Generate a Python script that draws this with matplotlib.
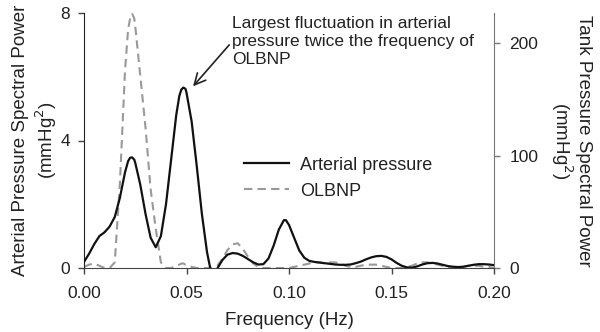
import matplotlib
matplotlib.use("Agg")
import matplotlib.pyplot as plt

plt.rcParams['font.family'] = ['Liberation Sans', 'DejaVu Sans']

freq = [0.0, 0.0025, 0.005, 0.0075, 0.01, 0.0125, 0.015, 0.0175, 0.02, 0.0215, 0.0225, 0.0235, 0.0245,
        0.025, 0.0275, 0.03, 0.0325, 0.035, 0.0375, 0.04, 0.0425, 0.045, 0.0465, 0.0475, 0.0485, 0.0495,
        0.05, 0.0525, 0.055, 0.0575, 0.06, 0.0625, 0.065, 0.0675, 0.07, 0.0725,
        0.075, 0.0775, 0.08, 0.0825, 0.085, 0.0875, 0.09, 0.0925, 0.095, 0.0975, 0.0985,
        0.1, 0.1025, 0.105, 0.1075, 0.11, 0.1125, 0.115, 0.1175, 0.12, 0.1225,
        0.125, 0.1275, 0.13, 0.1325, 0.135, 0.1375, 0.14, 0.1425, 0.145, 0.1475,
        0.15, 0.1525, 0.155, 0.1575, 0.16, 0.1625, 0.165, 0.1675, 0.17, 0.1725,
        0.175, 0.1775, 0.18, 0.1825, 0.185, 0.1875, 0.19, 0.1925, 0.195, 0.1975, 0.2]

arterial = [0.19, 0.45, 0.75, 1.0, 1.12, 1.3, 1.6, 2.2, 3.0, 3.35, 3.46, 3.47, 3.4,
            3.3, 2.6, 1.7, 0.95, 0.65, 1.0, 2.0, 3.4, 4.8, 5.4, 5.6, 5.66, 5.62,
            5.5, 4.6, 3.2, 1.7, 0.5, -0.3, -0.02, 0.25, 0.42, 0.47,
            0.45, 0.38, 0.28, 0.18, 0.11, 0.12, 0.3, 0.7, 1.2, 1.5, 1.5,
            1.35, 0.95, 0.55, 0.32, 0.22, 0.19, 0.17, 0.15, 0.13, 0.11,
            0.1, 0.1, 0.11, 0.15, 0.2, 0.27, 0.33, 0.37, 0.38, 0.35,
            0.27, 0.16, 0.07, 0.02, 0.01, 0.05, 0.11, 0.15, 0.16, 0.14,
            0.1, 0.06, 0.04, 0.03, 0.04, 0.07, 0.1, 0.12, 0.12, 0.11, 0.09]

olbnp = [1, 3, 4, 2, 0, 0, 5, 75, 175, 212, 222, 226, 222,
         215, 170, 125, 70, 35, 5, 0, 0, 2, 3, 4, 4, 3,
         3, 1, 0, 0, 0, 0, 2, 8, 16, 21,
         22, 17, 10, 4, 1, 0, 0, 0, 0, 0, 0,
         0, 1, 2, 3, 4, 5, 5, 4, 5, 5,
         4, 2, 1, 1, 2, 3, 3, 3, 2, 1,
         0, 0, 0, 1, 2, 4, 5, 5, 4, 3,
         2, 1, 0, 0, 1, 2, 2, 2, 1, 1, 0]

xticks = [0.0, 0.05, 0.10, 0.15, 0.20]
yticks_left = [0, 4, 8]
yticks_right = [0, 100, 200]

fig = plt.figure(figsize=(6, 3.32), dpi=100)
ax = fig.add_axes([84/600, 1-268/332, 410/600, 255/332])
ax2 = ax.twinx()

ax.set_xlim(0, 0.2)
ax.set_ylim(0, 8)
ax2.set_ylim(0, 226.7)

l1, = ax.plot(freq, arterial, color='#111111', lw=1.6, label='Arterial pressure', zorder=3)
l2, = ax2.plot(freq, olbnp, color='#999999', lw=1.5, ls=(0, (4, 2.5)), label='OLBNP', zorder=2)
ax.set_zorder(ax2.get_zorder() + 1)
ax.patch.set_visible(False)

ax.set_xticks(xticks)
ax.set_xticklabels([f"{v:.2f}" for v in xticks])
ax.set_yticks(yticks_left)
ax2.set_yticks(yticks_right)

for a in (ax, ax2):
    a.spines['top'].set_visible(False)
    a.tick_params(labelsize=12.5, colors='#222222', length=4, width=1)
ax.spines['right'].set_visible(False)
ax.spines['left'].set_color('#222222')
ax.spines['bottom'].set_color('#444444')
ax2.spines['left'].set_visible(False)
ax2.spines['bottom'].set_visible(False)
ax2.spines['right'].set_color('#777777')
ax.tick_params(axis='y', color='#444444', pad=6)
ax.tick_params(axis='x', color='#444444', pad=9)
ax2.tick_params(axis='y', color='#777777', pad=7)

ax.set_xlabel('Frequency (Hz)', fontsize=13.5, color='#222222', labelpad=8)
ax.set_ylabel('Arterial Pressure Spectral Power\n(mmHg$^2$)', fontsize=13.5, color='#222222', labelpad=1, linespacing=1.25)
ax2.set_ylabel('Tank Pressure Spectral Power\n(mmHg$^2$)', fontsize=13.5, color='#222222', rotation=270, labelpad=39, linespacing=1.05)

ax.legend(handles=[l1, l2], loc='upper left', bbox_to_anchor=(0.35, 0.5), frameon=False,
          fontsize=13, handlelength=2.5, handletextpad=0.6, labelspacing=0.5, labelcolor='#222222')

ax.annotate('Largest fluctuation in arterial\npressure twice the frequency of\nOLBNP',
            xy=(0.0532, 5.7), xytext=(0.0722, 7.9), fontsize=12.5, color='#222222',
            va='top', ha='left', linespacing=1.25,
            arrowprops=dict(arrowstyle='->', color='#222222', lw=1.2, mutation_scale=20,
                            shrinkA=0, shrinkB=0, relpos=(0, 0.5)))

fig.savefig('out.png', dpi=100)
